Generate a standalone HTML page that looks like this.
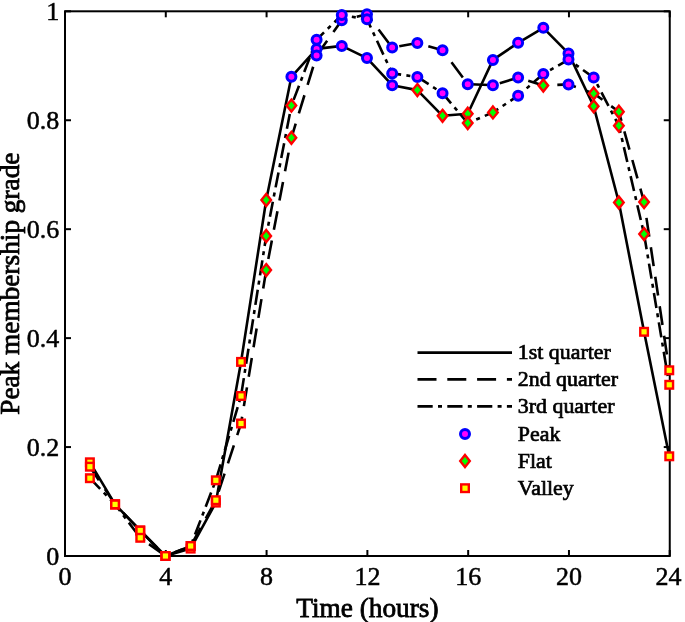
<!DOCTYPE html>
<html><head><meta charset="utf-8"><style>
html,body{margin:0;padding:0;background:#fff;}
body{width:685px;height:622px;overflow:hidden;}
svg{display:block;will-change:transform;}
text{font-family:"Liberation Serif",serif;fill:#000;stroke:#000;stroke-width:0.5px;}
.al{stroke-width:0.8px;}
.lg{stroke-width:0.7px;}
</style></head><body>
<svg width="685" height="622" viewBox="0 0 685 622">
<rect width="685" height="622" fill="#fff"/>
<rect x="65.0" y="11.3" width="604.75" height="544.7" fill="none" stroke="#000" stroke-width="2"/>
<line x1="65.00" y1="556.0" x2="65.00" y2="550.0" stroke="#000" stroke-width="2"/>
<line x1="65.00" y1="11.3" x2="65.00" y2="17.3" stroke="#000" stroke-width="2"/>
<line x1="165.79" y1="556.0" x2="165.79" y2="550.0" stroke="#000" stroke-width="2"/>
<line x1="165.79" y1="11.3" x2="165.79" y2="17.3" stroke="#000" stroke-width="2"/>
<line x1="266.58" y1="556.0" x2="266.58" y2="550.0" stroke="#000" stroke-width="2"/>
<line x1="266.58" y1="11.3" x2="266.58" y2="17.3" stroke="#000" stroke-width="2"/>
<line x1="367.38" y1="556.0" x2="367.38" y2="550.0" stroke="#000" stroke-width="2"/>
<line x1="367.38" y1="11.3" x2="367.38" y2="17.3" stroke="#000" stroke-width="2"/>
<line x1="468.17" y1="556.0" x2="468.17" y2="550.0" stroke="#000" stroke-width="2"/>
<line x1="468.17" y1="11.3" x2="468.17" y2="17.3" stroke="#000" stroke-width="2"/>
<line x1="568.96" y1="556.0" x2="568.96" y2="550.0" stroke="#000" stroke-width="2"/>
<line x1="568.96" y1="11.3" x2="568.96" y2="17.3" stroke="#000" stroke-width="2"/>
<line x1="669.75" y1="556.0" x2="669.75" y2="550.0" stroke="#000" stroke-width="2"/>
<line x1="669.75" y1="11.3" x2="669.75" y2="17.3" stroke="#000" stroke-width="2"/>
<line x1="65.0" y1="556.00" x2="71.0" y2="556.00" stroke="#000" stroke-width="2"/>
<line x1="669.75" y1="556.00" x2="663.75" y2="556.00" stroke="#000" stroke-width="2"/>
<line x1="65.0" y1="447.06" x2="71.0" y2="447.06" stroke="#000" stroke-width="2"/>
<line x1="669.75" y1="447.06" x2="663.75" y2="447.06" stroke="#000" stroke-width="2"/>
<line x1="65.0" y1="338.12" x2="71.0" y2="338.12" stroke="#000" stroke-width="2"/>
<line x1="669.75" y1="338.12" x2="663.75" y2="338.12" stroke="#000" stroke-width="2"/>
<line x1="65.0" y1="229.18" x2="71.0" y2="229.18" stroke="#000" stroke-width="2"/>
<line x1="669.75" y1="229.18" x2="663.75" y2="229.18" stroke="#000" stroke-width="2"/>
<line x1="65.0" y1="120.24" x2="71.0" y2="120.24" stroke="#000" stroke-width="2"/>
<line x1="669.75" y1="120.24" x2="663.75" y2="120.24" stroke="#000" stroke-width="2"/>
<line x1="65.0" y1="11.30" x2="71.0" y2="11.30" stroke="#000" stroke-width="2"/>
<line x1="669.75" y1="11.30" x2="663.75" y2="11.30" stroke="#000" stroke-width="2"/>
<polyline points="89.89,462.30 115.08,504.40 140.27,530.50 165.46,556.00 190.65,548.60 215.84,502.60 241.03,361.90 266.22,200.00 291.41,76.80 316.60,48.90 341.79,45.90 366.98,58.10 392.17,85.20 417.36,90.10 442.55,115.80 467.74,113.70 492.93,59.90 518.12,42.80 543.31,27.80 568.50,53.40 593.69,106.30 618.88,202.50 644.07,331.80 669.26,456.30" fill="none" stroke="#000" stroke-width="2.6" stroke-linejoin="round"/>
<polyline points="89.89,466.70 115.08,504.40 140.27,530.50 165.46,556.00 190.65,546.00 215.84,500.20 241.03,423.50 266.22,270.10 291.41,137.80 316.60,55.60 341.79,20.30 366.98,14.20 392.17,47.60 417.36,43.00 442.55,50.30 467.74,84.20 492.93,85.20 518.12,77.60 543.31,85.50 568.50,84.40 593.69,93.40 618.88,111.75 644.07,202.00 669.26,370.30" fill="none" stroke="#000" stroke-width="2.6" stroke-linejoin="round" stroke-dasharray="19.0 10.8" stroke-dashoffset="2.8"/>
<polyline points="89.89,478.20 115.08,504.40 140.27,537.80 165.46,556.00 190.65,546.00 215.84,480.30 241.03,396.00 266.22,236.00 291.41,105.60 316.60,39.70 341.79,15.00 366.98,19.30 392.17,73.40 417.36,76.90 442.55,93.20 467.74,123.10 492.93,112.40 518.12,95.70 543.31,74.00 568.50,59.60 593.69,77.60 618.88,125.70 644.07,234.10 669.26,384.80" fill="none" stroke="#000" stroke-width="2.6" stroke-linejoin="round" stroke-dasharray="15.2 5.3 4.0 5.3" stroke-dashoffset="0.4"/>
<circle cx="291.41" cy="76.80" r="4.5" fill="#ff00ff" stroke="#0000ff" stroke-width="3"/>
<circle cx="316.60" cy="48.90" r="4.5" fill="#ff00ff" stroke="#0000ff" stroke-width="3"/>
<circle cx="341.79" cy="45.90" r="4.5" fill="#ff00ff" stroke="#0000ff" stroke-width="3"/>
<circle cx="366.98" cy="58.10" r="4.5" fill="#ff00ff" stroke="#0000ff" stroke-width="3"/>
<circle cx="392.17" cy="85.20" r="4.5" fill="#ff00ff" stroke="#0000ff" stroke-width="3"/>
<circle cx="492.93" cy="59.90" r="4.5" fill="#ff00ff" stroke="#0000ff" stroke-width="3"/>
<circle cx="518.12" cy="42.80" r="4.5" fill="#ff00ff" stroke="#0000ff" stroke-width="3"/>
<circle cx="543.31" cy="27.80" r="4.5" fill="#ff00ff" stroke="#0000ff" stroke-width="3"/>
<circle cx="568.50" cy="53.40" r="4.5" fill="#ff00ff" stroke="#0000ff" stroke-width="3"/>
<circle cx="316.60" cy="55.60" r="4.5" fill="#ff00ff" stroke="#0000ff" stroke-width="3"/>
<circle cx="341.79" cy="20.30" r="4.5" fill="#ff00ff" stroke="#0000ff" stroke-width="3"/>
<circle cx="366.98" cy="14.20" r="4.5" fill="#ff00ff" stroke="#0000ff" stroke-width="3"/>
<circle cx="392.17" cy="47.60" r="4.5" fill="#ff00ff" stroke="#0000ff" stroke-width="3"/>
<circle cx="417.36" cy="43.00" r="4.5" fill="#ff00ff" stroke="#0000ff" stroke-width="3"/>
<circle cx="442.55" cy="50.30" r="4.5" fill="#ff00ff" stroke="#0000ff" stroke-width="3"/>
<circle cx="467.74" cy="84.20" r="4.5" fill="#ff00ff" stroke="#0000ff" stroke-width="3"/>
<circle cx="492.93" cy="85.20" r="4.5" fill="#ff00ff" stroke="#0000ff" stroke-width="3"/>
<circle cx="518.12" cy="77.60" r="4.5" fill="#ff00ff" stroke="#0000ff" stroke-width="3"/>
<circle cx="568.50" cy="84.40" r="4.5" fill="#ff00ff" stroke="#0000ff" stroke-width="3"/>
<circle cx="316.60" cy="39.70" r="4.5" fill="#ff00ff" stroke="#0000ff" stroke-width="3"/>
<circle cx="341.79" cy="15.00" r="4.5" fill="#ff00ff" stroke="#0000ff" stroke-width="3"/>
<circle cx="366.98" cy="19.30" r="4.5" fill="#ff00ff" stroke="#0000ff" stroke-width="3"/>
<circle cx="392.17" cy="73.40" r="4.5" fill="#ff00ff" stroke="#0000ff" stroke-width="3"/>
<circle cx="417.36" cy="76.90" r="4.5" fill="#ff00ff" stroke="#0000ff" stroke-width="3"/>
<circle cx="442.55" cy="93.20" r="4.5" fill="#ff00ff" stroke="#0000ff" stroke-width="3"/>
<circle cx="518.12" cy="95.70" r="4.5" fill="#ff00ff" stroke="#0000ff" stroke-width="3"/>
<circle cx="543.31" cy="74.00" r="4.5" fill="#ff00ff" stroke="#0000ff" stroke-width="3"/>
<circle cx="568.50" cy="59.60" r="4.5" fill="#ff00ff" stroke="#0000ff" stroke-width="3"/>
<circle cx="593.69" cy="77.60" r="4.5" fill="#ff00ff" stroke="#0000ff" stroke-width="3"/>
<polygon points="266.22,194.00 271.02,200.00 266.22,206.00 261.42,200.00" fill="#00ff00" stroke="#ff0000" stroke-width="2.4" stroke-linejoin="miter"/>
<polygon points="417.36,84.10 422.16,90.10 417.36,96.10 412.56,90.10" fill="#00ff00" stroke="#ff0000" stroke-width="2.4" stroke-linejoin="miter"/>
<polygon points="442.55,109.80 447.35,115.80 442.55,121.80 437.75,115.80" fill="#00ff00" stroke="#ff0000" stroke-width="2.4" stroke-linejoin="miter"/>
<polygon points="467.74,107.70 472.54,113.70 467.74,119.70 462.94,113.70" fill="#00ff00" stroke="#ff0000" stroke-width="2.4" stroke-linejoin="miter"/>
<polygon points="593.69,100.30 598.49,106.30 593.69,112.30 588.89,106.30" fill="#00ff00" stroke="#ff0000" stroke-width="2.4" stroke-linejoin="miter"/>
<polygon points="618.88,196.50 623.68,202.50 618.88,208.50 614.08,202.50" fill="#00ff00" stroke="#ff0000" stroke-width="2.4" stroke-linejoin="miter"/>
<polygon points="266.22,264.10 271.02,270.10 266.22,276.10 261.42,270.10" fill="#00ff00" stroke="#ff0000" stroke-width="2.4" stroke-linejoin="miter"/>
<polygon points="291.41,131.80 296.21,137.80 291.41,143.80 286.61,137.80" fill="#00ff00" stroke="#ff0000" stroke-width="2.4" stroke-linejoin="miter"/>
<polygon points="543.31,79.50 548.11,85.50 543.31,91.50 538.51,85.50" fill="#00ff00" stroke="#ff0000" stroke-width="2.4" stroke-linejoin="miter"/>
<polygon points="593.69,87.40 598.49,93.40 593.69,99.40 588.89,93.40" fill="#00ff00" stroke="#ff0000" stroke-width="2.4" stroke-linejoin="miter"/>
<polygon points="618.88,105.75 623.68,111.75 618.88,117.75 614.08,111.75" fill="#00ff00" stroke="#ff0000" stroke-width="2.4" stroke-linejoin="miter"/>
<polygon points="644.07,196.00 648.87,202.00 644.07,208.00 639.27,202.00" fill="#00ff00" stroke="#ff0000" stroke-width="2.4" stroke-linejoin="miter"/>
<polygon points="266.22,230.00 271.02,236.00 266.22,242.00 261.42,236.00" fill="#00ff00" stroke="#ff0000" stroke-width="2.4" stroke-linejoin="miter"/>
<polygon points="291.41,99.60 296.21,105.60 291.41,111.60 286.61,105.60" fill="#00ff00" stroke="#ff0000" stroke-width="2.4" stroke-linejoin="miter"/>
<polygon points="467.74,117.10 472.54,123.10 467.74,129.10 462.94,123.10" fill="#00ff00" stroke="#ff0000" stroke-width="2.4" stroke-linejoin="miter"/>
<polygon points="492.93,106.40 497.73,112.40 492.93,118.40 488.13,112.40" fill="#00ff00" stroke="#ff0000" stroke-width="2.4" stroke-linejoin="miter"/>
<polygon points="618.88,119.70 623.68,125.70 618.88,131.70 614.08,125.70" fill="#00ff00" stroke="#ff0000" stroke-width="2.4" stroke-linejoin="miter"/>
<polygon points="644.07,228.10 648.87,234.10 644.07,240.10 639.27,234.10" fill="#00ff00" stroke="#ff0000" stroke-width="2.4" stroke-linejoin="miter"/>
<rect x="86.09" y="458.50" width="7.6" height="7.6" fill="#ffff00" stroke="#ff0000" stroke-width="2.4"/>
<rect x="111.28" y="500.60" width="7.6" height="7.6" fill="#ffff00" stroke="#ff0000" stroke-width="2.4"/>
<rect x="136.47" y="526.70" width="7.6" height="7.6" fill="#ffff00" stroke="#ff0000" stroke-width="2.4"/>
<rect x="161.66" y="552.20" width="7.6" height="7.6" fill="#ffff00" stroke="#ff0000" stroke-width="2.4"/>
<rect x="186.85" y="544.80" width="7.6" height="7.6" fill="#ffff00" stroke="#ff0000" stroke-width="2.4"/>
<rect x="212.04" y="498.80" width="7.6" height="7.6" fill="#ffff00" stroke="#ff0000" stroke-width="2.4"/>
<rect x="237.23" y="358.10" width="7.6" height="7.6" fill="#ffff00" stroke="#ff0000" stroke-width="2.4"/>
<rect x="640.27" y="328.00" width="7.6" height="7.6" fill="#ffff00" stroke="#ff0000" stroke-width="2.4"/>
<rect x="665.46" y="452.50" width="7.6" height="7.6" fill="#ffff00" stroke="#ff0000" stroke-width="2.4"/>
<rect x="86.09" y="462.90" width="7.6" height="7.6" fill="#ffff00" stroke="#ff0000" stroke-width="2.4"/>
<rect x="111.28" y="500.60" width="7.6" height="7.6" fill="#ffff00" stroke="#ff0000" stroke-width="2.4"/>
<rect x="136.47" y="526.70" width="7.6" height="7.6" fill="#ffff00" stroke="#ff0000" stroke-width="2.4"/>
<rect x="161.66" y="552.20" width="7.6" height="7.6" fill="#ffff00" stroke="#ff0000" stroke-width="2.4"/>
<rect x="186.85" y="542.20" width="7.6" height="7.6" fill="#ffff00" stroke="#ff0000" stroke-width="2.4"/>
<rect x="212.04" y="496.40" width="7.6" height="7.6" fill="#ffff00" stroke="#ff0000" stroke-width="2.4"/>
<rect x="237.23" y="419.70" width="7.6" height="7.6" fill="#ffff00" stroke="#ff0000" stroke-width="2.4"/>
<rect x="665.46" y="366.50" width="7.6" height="7.6" fill="#ffff00" stroke="#ff0000" stroke-width="2.4"/>
<rect x="86.09" y="474.40" width="7.6" height="7.6" fill="#ffff00" stroke="#ff0000" stroke-width="2.4"/>
<rect x="111.28" y="500.60" width="7.6" height="7.6" fill="#ffff00" stroke="#ff0000" stroke-width="2.4"/>
<rect x="136.47" y="534.00" width="7.6" height="7.6" fill="#ffff00" stroke="#ff0000" stroke-width="2.4"/>
<rect x="161.66" y="552.20" width="7.6" height="7.6" fill="#ffff00" stroke="#ff0000" stroke-width="2.4"/>
<rect x="186.85" y="542.20" width="7.6" height="7.6" fill="#ffff00" stroke="#ff0000" stroke-width="2.4"/>
<rect x="212.04" y="476.50" width="7.6" height="7.6" fill="#ffff00" stroke="#ff0000" stroke-width="2.4"/>
<rect x="237.23" y="392.20" width="7.6" height="7.6" fill="#ffff00" stroke="#ff0000" stroke-width="2.4"/>
<rect x="665.46" y="381.00" width="7.6" height="7.6" fill="#ffff00" stroke="#ff0000" stroke-width="2.4"/>
<text x="65.00" y="584.7" text-anchor="middle" font-size="26">0</text>
<text x="165.79" y="584.7" text-anchor="middle" font-size="26">4</text>
<text x="266.58" y="584.7" text-anchor="middle" font-size="26">8</text>
<text x="367.38" y="584.7" text-anchor="middle" font-size="26">12</text>
<text x="468.17" y="584.7" text-anchor="middle" font-size="26">16</text>
<text x="568.96" y="584.7" text-anchor="middle" font-size="26">20</text>
<text x="668.55" y="584.7" text-anchor="middle" font-size="26">24</text>
<text x="59.3" y="565.00" text-anchor="end" font-size="26">0</text>
<text x="59.3" y="456.06" text-anchor="end" font-size="26">0.2</text>
<text x="59.3" y="347.12" text-anchor="end" font-size="26">0.4</text>
<text x="59.3" y="238.18" text-anchor="end" font-size="26">0.6</text>
<text x="59.3" y="129.24" text-anchor="end" font-size="26">0.8</text>
<text x="59.3" y="20.30" text-anchor="end" font-size="26">1</text>
<text x="367.38" y="616.6" text-anchor="middle" font-size="27.3" class="al">Time (hours)</text>
<text transform="translate(18.8 283.65) rotate(-90)" x="0" y="0" text-anchor="middle" font-size="27.3" class="al">Peak membership grade</text>
<line x1="417.5" y1="352.6" x2="512.0" y2="352.6" stroke="#000" stroke-width="2.6"/>
<line x1="417.5" y1="379.4" x2="512.0" y2="379.4" stroke="#000" stroke-width="2.6" stroke-dasharray="19.0 10.8"/>
<line x1="417.5" y1="406.4" x2="512.0" y2="406.4" stroke="#000" stroke-width="2.6" stroke-dasharray="15.2 5.3 4.0 5.3"/>
<circle cx="465.00" cy="434.00" r="4.5" fill="#ff00ff" stroke="#0000ff" stroke-width="3"/>
<polygon points="465.00,455.00 469.80,461.00 465.00,467.00 460.20,461.00" fill="#00ff00" stroke="#ff0000" stroke-width="2.4" stroke-linejoin="miter"/>
<rect x="461.20" y="484.40" width="7.6" height="7.6" fill="#ffff00" stroke="#ff0000" stroke-width="2.4"/>
<text x="517.8" y="359.1" font-size="21.9" class="lg">1st quarter</text>
<text x="517.8" y="386.4" font-size="21.9" class="lg">2nd quarter</text>
<text x="517.8" y="413.1" font-size="21.9" class="lg">3rd quarter</text>
<text x="517.8" y="441.3" font-size="21.9" class="lg">Peak</text>
<text x="517.8" y="468.2" font-size="21.9" class="lg">Flat</text>
<text x="517.8" y="494.9" font-size="21.9" class="lg">Valley</text>
</svg>
</body></html>
